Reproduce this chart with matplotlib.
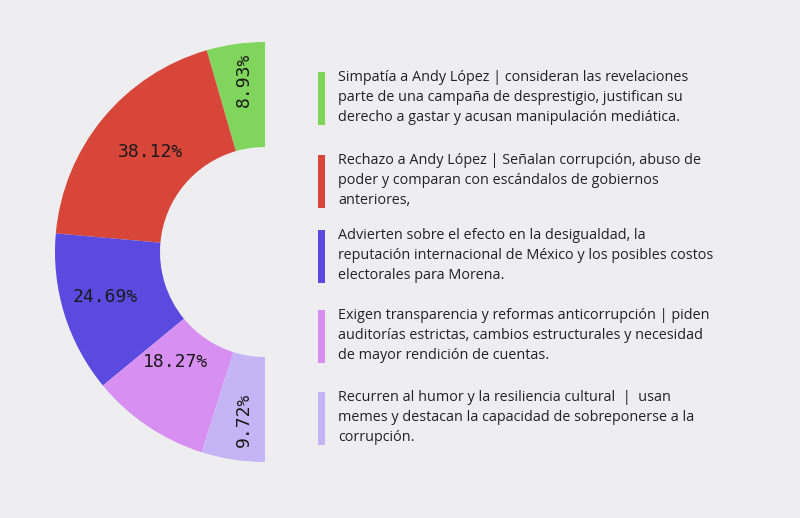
import matplotlib.pyplot as plt
from matplotlib.patches import Rectangle

labels_pct = ["8.93%", "38.12%", "24.69%", "18.27%", "9.72%"]
values = [8.93, 38.12, 24.69, 18.27, 9.72]
colors = ["#80d65c", "#d8463a", "#5a4ae0", "#d88ff2", "#c5b5f6"]
legend_texts = [
    "Simpatía a Andy López | consideran las revelaciones\nparte de una campaña de desprestigio, justifican su\nderecho a gastar y acusan manipulación mediática.",
    "Rechazo a Andy López | Señalan corrupción, abuso de\npoder y comparan con escándalos de gobiernos\nanteriores,",
    "Advierten sobre el efecto en la desigualdad, la\nreputación internacional de México y los posibles costos\nelectorales para Morena.",
    "Exigen transparencia y reformas anticorrupción | piden\nauditorías estrictas, cambios estructurales y necesidad\nde mayor rendición de cuentas.",
    "Recurren al humor y la resiliencia cultural  |  usan\nmemes y destacan la capacidad de sobreponerse a la\ncorrupción.",
]

fig = plt.figure(figsize=(8, 5.18), dpi=100)
fig.patch.set_facecolor("#eeeef0")
ax = fig.add_axes([0, 0, 1, 1])

# half donut: scale values to 180 degrees, add invisible filler for the right half
total = sum(values)
ax.pie(values + [total], colors=colors + ["none"], startangle=90,
       counterclock=True, center=(265, 266), radius=210,
       wedgeprops=dict(width=105, linewidth=0), frame=True)
ax.set_xlim(0, 800)
ax.set_ylim(0, 518)
ax.set_aspect("equal")
ax.axis("off")

# label positions in the same order as labels_pct
pct_pos = [(244, 438, 90), (150, 366, 0), (105, 221, 0), (175, 156, 0), (244, 98, 90)]
for (x, y, rot), t in zip(pct_pos, labels_pct):
    ax.text(x, y, t, ha="center", va="center", rotation=rot,
            fontsize=13, family="DejaVu Sans Mono", color="#1a1a1a")

tops = [72, 155, 230, 310, 392]
for top, c, txt in zip(tops, colors, legend_texts):
    ax.add_patch(Rectangle((318, 518 - top - 53), 7, 53, color=c, lw=0))
    ax.text(338, 518 - top + 2, txt, ha="left", va="top", fontsize=10.4,
            family="Open Sans", color="#222222", linespacing=1.45)

fig.savefig("out.png", dpi=100, facecolor=fig.get_facecolor())
